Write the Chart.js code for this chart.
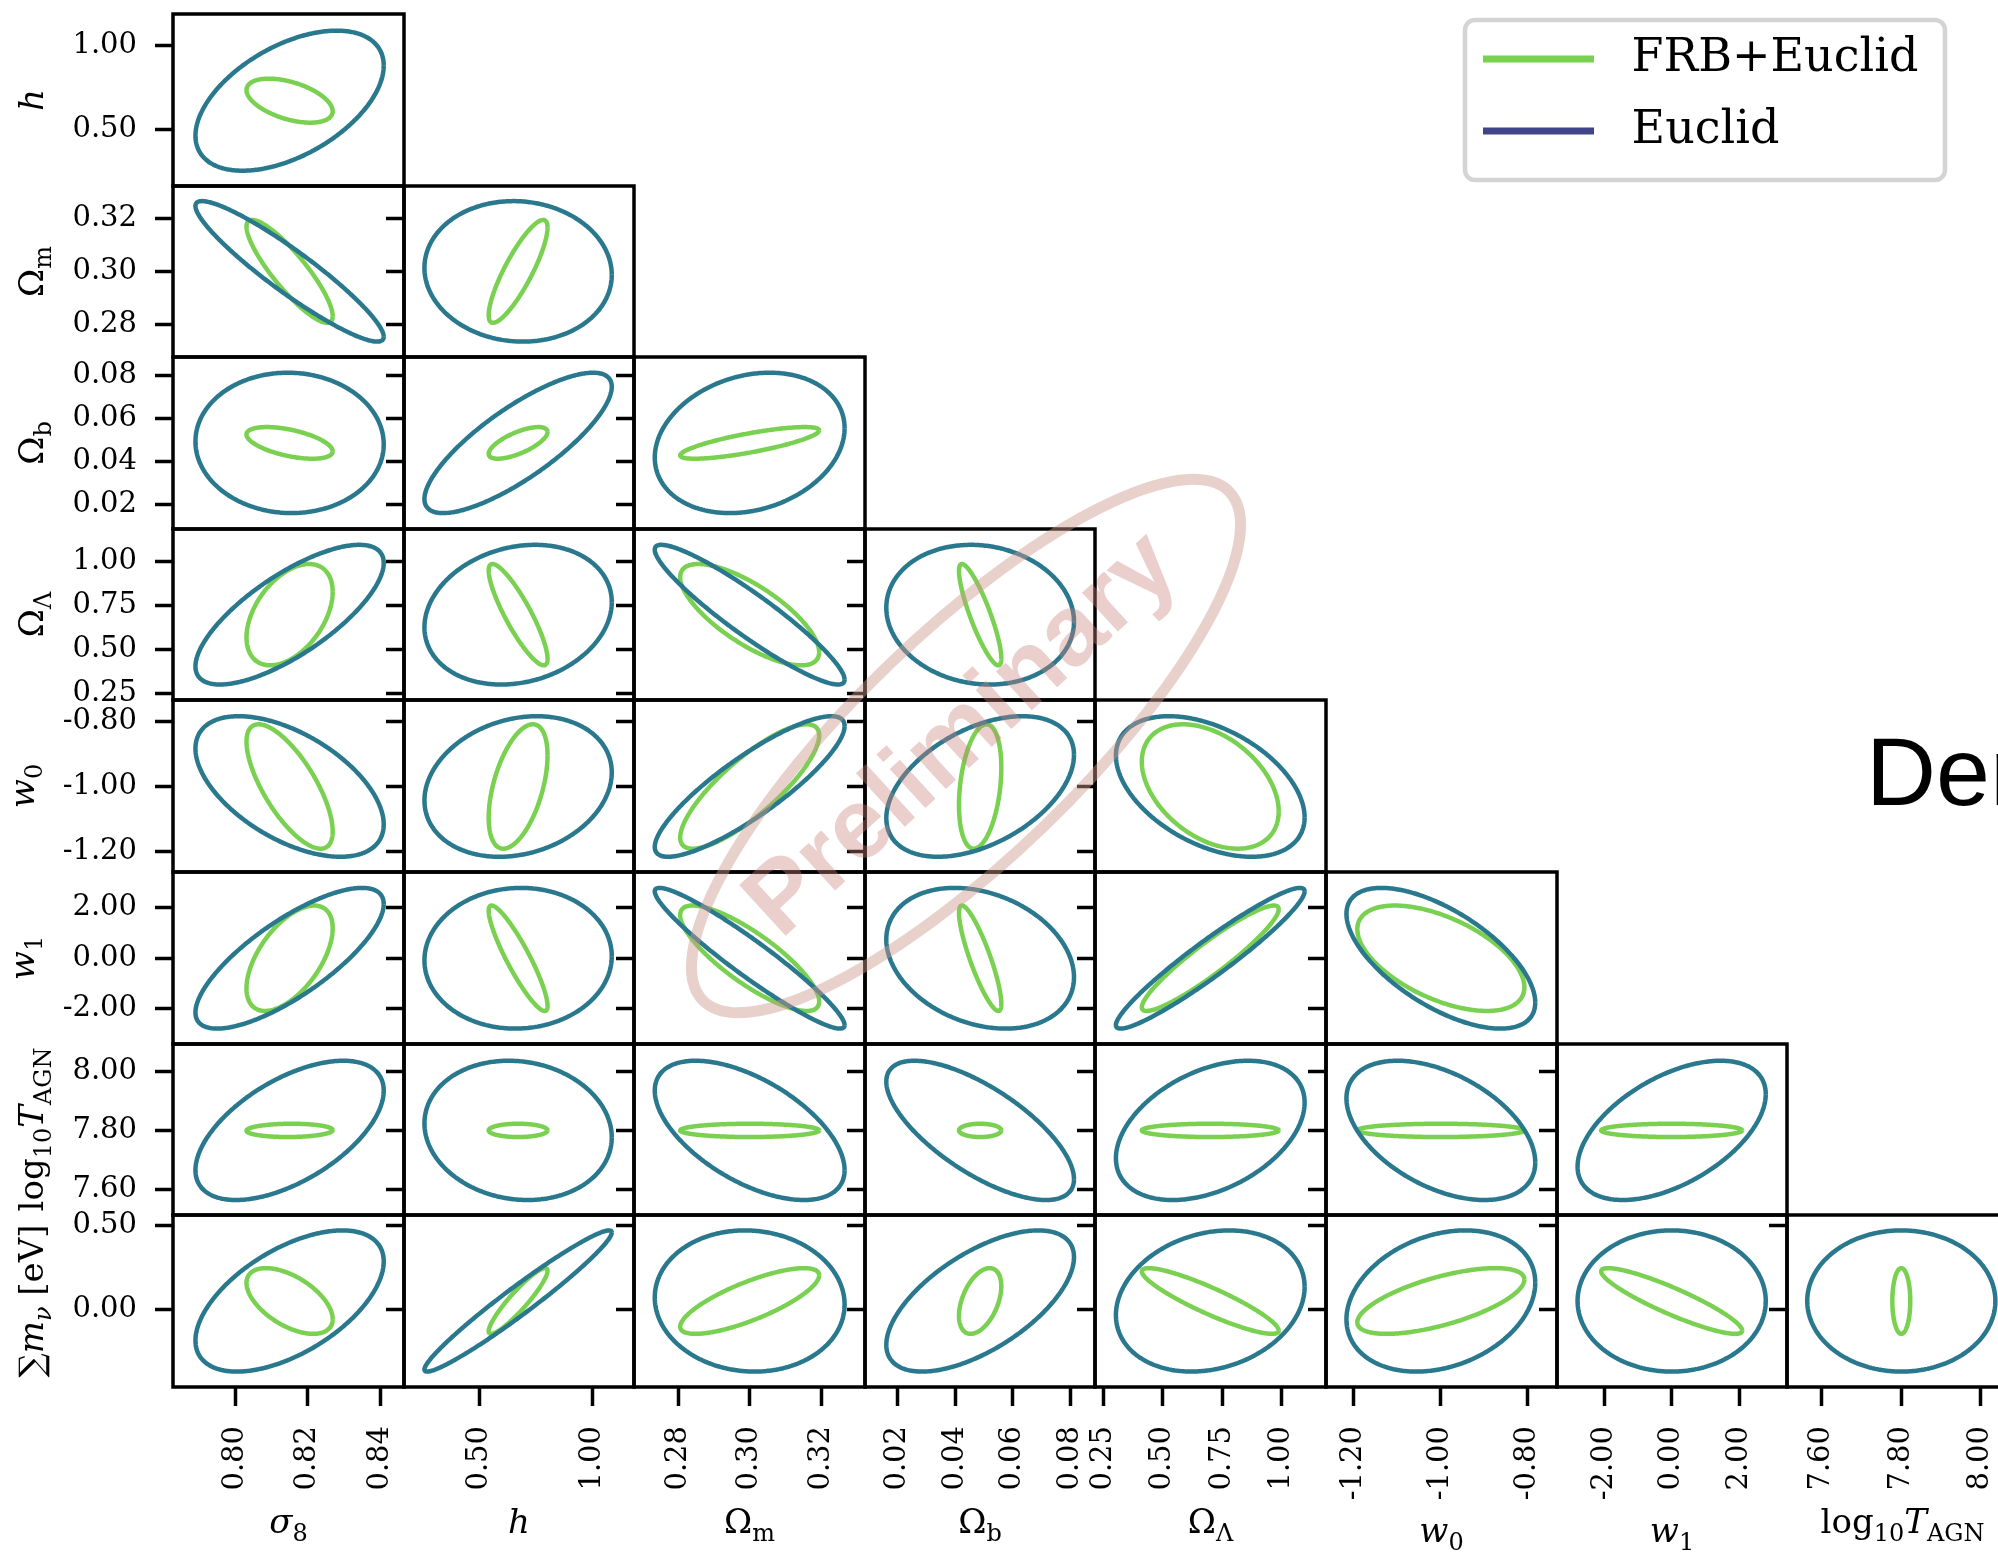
<!DOCTYPE html>
<html>
<head>
<meta charset="utf-8">
<script src="https://cdn.jsdelivr.net/npm/chart.js@4.4.0/dist/chart.umd.min.js"></script>
<style>
html, body { margin: 0; padding: 0; background: #fff; overflow: hidden; }
#page { position: relative; width: 1998px; height: 1556px; overflow: hidden; background: #fff; }
#page canvas { position: absolute; }
</style>
</head>
<body>
<div id="page"></div>
<script>
// parameter order: sigma8, h, Omega_m, Omega_b, Omega_Lambda, w0, w1, log10 T_AGN, sum m_nu
var fiducial    = [0.815, 0.670, 0.300, 0.0486, 0.700, -1.000, 0.00, 7.800, 0.050];
var axisMin     = [0.7828, 0.162, 0.2677, 0.0086, 0.215, -1.264, -3.40, 7.512, -0.463];
var axisMax     = [0.8466, 1.186, 0.3322, 0.0885, 1.187, -0.733, 3.42, 8.094, 0.563];
var tickValues  = [
    [0.80, 0.82, 0.84],
    [0.50, 1.00],
    [0.28, 0.30, 0.32],
    [0.02, 0.04, 0.06, 0.08],
    [0.25, 0.50, 0.75, 1.00],
    [-1.20, -1.00, -0.80],
    [-2.00, 0.00, 2.00],
    [7.60, 7.80, 8.00],
    [0.00, 0.50]
];
// half extent of each contour along every parameter
var euclidWidth = [0.0260, 0.417, 0.0265, 0.0326, 0.397, 0.217, 2.79, 0.237, 0.421];
var frbWidth    = [0.0119, 0.131, 0.0194, 0.00735, 0.288, 0.192, 2.09, 0.0226, 0.196];
// correlation of each pair, row = y parameter (h .. sum m_nu), column = x parameter
var euclidCorr = [
    [0.50],
    [-0.93, -0.05],
    [-0.02, 0.80, 0.21],
    [0.74, 0.18, -0.93, -0.10],
    [-0.54, 0.20, 0.86, 0.45, -0.44],
    [0.77, 0.03, -0.95, -0.27, 0.95, -0.63],
    [0.57, -0.10, -0.57, -0.70, 0.40, -0.46, 0.52],
    [0.56, 0.97, -0.05, 0.62, 0.20, 0.26, 0.00, 0.00]
];
var frbCorr = [
    [-0.48],
    [-0.87, 0.85],
    [-0.53, 0.69, 0.79],
    [0.45, -0.87, -0.74, -0.86],
    [-0.72, 0.50, 0.82, 0.30, -0.40],
    [0.57, -0.90, -0.82, -0.86, 0.93, -0.55],
    [0.05, 0.00, 0.00, 0.00, 0.00, 0.00, 0.00],
    [-0.55, 0.92, 0.78, 0.45, -0.90, 0.65, -0.90, 0.00]
];
var axisLabels = [
    [['σ', 'i'], ['8', 'sub']],
    [['h', 'i']],
    [['Ω', 'r'], ['m', 'sub']],
    [['Ω', 'r'], ['b', 'sub']],
    [['Ω', 'r'], ['Λ', 'sub']],
    [['w', 'i'], ['0', 'sub']],
    [['w', 'i'], ['1', 'sub']],
    [['log', 'r'], ['10', 'sub'], ['T', 'i'], ['AGN', 'sub']],
    [['∑', 'r'], ['m', 'i'], ['ν', 'subi'], [' [eV]', 'r']]
];
var seriesNames = ['FRB+Euclid', 'Euclid'];

var green = '#7ad151', teal = '#2a788e', navy = '#414487';
var gridLeft = 173, gridTop = 14, cellW = 230.6, cellH = 171.6;
var nSeg = 180;
var tickFont = 29;

Chart.defaults.font.family = 'DejaVu Serif';
Chart.defaults.color = '#000';
Chart.defaults.animation = false;

var page = document.getElementById('page');

function colEdge(c){ return Math.round(gridLeft + cellW*c); }
function rowEdge(r){ return Math.round(gridTop + cellH*r); }

// contour of a 2d gaussian given its half extents and correlation
function contour(xi, yi, width, rho){
    var pts = [];
    var s = Math.sqrt(1 - rho*rho);
    for(var k=0;k<=nSeg;k++){
        var t = 2*Math.PI*k/nSeg;
        pts.push({
            x: fiducial[xi] + width[xi]*Math.cos(t),
            y: fiducial[yi] + width[yi]*(rho*Math.cos(t) + s*Math.sin(t))
        });
    }
    return pts;
}

var titleStyle = {
    i:    {font: 'italic 34px "DejaVu Serif"', dy: 0},
    r:    {font: '34px "DejaVu Serif"', dy: 0},
    sub:  {font: '24px "DejaVu Serif"', dy: 8},
    subi: {font: 'italic 24px "DejaVu Serif"', dy: 8}
};

function drawLabel(ctx, parts, mid, base, vertical){
    ctx.save();
    var w = 0;
    parts.forEach(function(p){ ctx.font = titleStyle[p[1]].font; w += ctx.measureText(p[0]).width; });
    if(vertical){
        ctx.translate(base, mid);
        ctx.rotate(-Math.PI/2);
    }else{
        ctx.translate(mid, base);
    }
    ctx.fillStyle = '#000';
    ctx.textAlign = 'left';
    ctx.textBaseline = 'alphabetic';
    var x = -w/2;
    parts.forEach(function(p){
        var st = titleStyle[p[1]];
        ctx.font = st.font;
        ctx.fillText(p[0], x, st.dy);
        x += ctx.measureText(p[0]).width;
    });
    ctx.restore();
}

function widestTick(ctx, p){
    ctx.save();
    ctx.font = tickFont + 'px "DejaVu Serif"';
    var m = 0;
    tickValues[p].forEach(function(v){ m = Math.max(m, ctx.measureText(v.toFixed(2)).width); });
    ctx.restore();
    return m;
}

var framePlugin = {
    id: 'frame',
    afterDraw: function(chart){
        var a = chart.chartArea, ctx = chart.ctx;
        ctx.save();
        ctx.strokeStyle = '#000';
        ctx.lineWidth = 3.5;
        ctx.strokeRect(a.left, a.top, a.right - a.left, a.bottom - a.top);
        ctx.restore();
    }
};

var titlePlugin = {
    id: 'mathTitles',
    afterDraw: function(chart, args, opts){
        var a = chart.chartArea, ctx = chart.ctx;
        if(opts.x >= 0){
            var wx = widestTick(ctx, opts.x);
            drawLabel(ctx, axisLabels[opts.x], (a.left + a.right)/2, a.bottom + 19 + 20 + wx + 42, false);
        }
        if(opts.y >= 0){
            var wy = widestTick(ctx, opts.y);
            drawLabel(ctx, axisLabels[opts.y], (a.top + a.bottom)/2, a.left - 18 - 18 - wy - 29, true);
        }
    }
};

function axisOptions(p, withLabels, dir, size){
    return {
        type: 'linear',
        min: axisMin[p],
        max: axisMax[p],
        display: dir === 'y' ? true : withLabels,
        afterBuildTicks: function(s){
            s.ticks = tickValues[p].map(function(v){ return {value: v}; });
        },
        afterFit: function(s){
            if(dir === 'x'){ s.height = withLabels ? size : 0; }else{ s.width = size; }
            s.paddingLeft = 0; s.paddingRight = 0; s.paddingTop = 0; s.paddingBottom = 0;
        },
        ticks: {
            display: withLabels,
            autoSkip: false,
            padding: dir === 'x' ? 20 : 18,
            minRotation: dir === 'x' ? 90 : 0,
            maxRotation: dir === 'x' ? 90 : 0,
            color: '#000',
            font: {family: 'DejaVu Serif', size: tickFont},
            callback: function(v){ return Number(v).toFixed(2); }
        },
        grid: {
            display: true,
            drawOnChartArea: false,
            drawTicks: true,
            tickLength: dir === 'x' ? 19 : 18,
            tickWidth: 3.5,
            tickColor: '#000'
        },
        border: {display: false}
    };
}

function addPanel(r, c){
    var xi = c, yi = r + 1;
    var px = colEdge(c), py = rowEdge(r);
    var pw = colEdge(c+1) - px, ph = rowEdge(r+1) - py;
    var padL = c === 0 ? px : 22;
    var padT = 20, padR = 4;
    var padB = r === 7 ? 1556 - (py + ph) : 20;
    var canvas = document.createElement('canvas');
    canvas.width = pw + padL + padR;
    canvas.height = ph + padT + padB;
    canvas.style.left = (px - padL) + 'px';
    canvas.style.top = (py - padT) + 'px';
    page.appendChild(canvas);

    new Chart(canvas, {
        type: 'scatter',
        data: {
            datasets: [{
                label: seriesNames[0],
                data: contour(xi, yi, frbWidth, frbCorr[r][c]),
                borderColor: green,
                backgroundColor: green,
                order: 2
            }, {
                label: seriesNames[1],
                data: contour(xi, yi, euclidWidth, euclidCorr[r][c]),
                borderColor: teal,
                backgroundColor: teal,
                order: 1
            }]
        },
        options: {
            responsive: false,
            animation: false,
            events: [],
            showLine: true,
            layout: {autoPadding: false, padding: {left: 0, right: padR, top: padT, bottom: r === 7 ? 0 : padB}},
            elements: {
                point: {radius: 0, hoverRadius: 0},
                line: {borderWidth: 4.5, tension: 0.1, fill: false}
            },
            plugins: {
                legend: {display: false},
                tooltip: {enabled: false},
                mathTitles: {x: r === 7 ? xi : -1, y: c === 0 ? yi : -1}
            },
            scales: {
                x: axisOptions(xi, r === 7, 'x', padB),
                y: axisOptions(yi, c === 0, 'y', padL)
            }
        },
        plugins: [framePlugin, titlePlugin]
    });
}

for(var r=0;r<8;r++){
    for(var c=0;c<=r;c++){
        addPanel(r, c);
    }
}

// legend
var legendCanvas = document.createElement('canvas');
legendCanvas.width = 1000;
legendCanvas.height = 240;
legendCanvas.style.left = '1457px';
legendCanvas.style.top = '10px';
page.appendChild(legendCanvas);

var legendFrame = {
    id: 'legendFrame',
    beforeDraw: function(chart){
        var ctx = chart.ctx;
        ctx.save();
        ctx.beginPath();
        ctx.roundRect(8, 10, 480, 160, 10);
        ctx.fillStyle = '#fff';
        ctx.fill();
        ctx.strokeStyle = '#d4d4d4';
        ctx.lineWidth = 4.5;
        ctx.stroke();
        ctx.restore();
    }
};

new Chart(legendCanvas, {
    type: 'line',
    data: {
        datasets: [
            {label: seriesNames[0], data: [], borderColor: green, backgroundColor: green},
            {label: seriesNames[1], data: [], borderColor: navy, backgroundColor: navy}
        ]
    },
    options: {
        responsive: false,
        animation: false,
        events: [],
        layout: {padding: 0},
        scales: {x: {display: false}, y: {display: false}},
        plugins: {
            tooltip: {enabled: false},
            legend: {
                display: true,
                position: 'left',
                align: 'start',
                maxWidth: 600,
                labels: {
                    boxWidth: 111,
                    boxHeight: 7,
                    padding: 26,
                    color: '#000',
                    font: {family: 'DejaVu Serif', size: 46},
                    generateLabels: function(chart){
                        return chart.data.datasets.map(function(ds, i){
                            return {text: ' ' + ds.label, fillStyle: ds.borderColor, strokeStyle: ds.borderColor,
                                    lineWidth: 0, hidden: false, datasetIndex: i, fontColor: '#000'};
                        });
                    }
                }
            }
        }
    },
    plugins: [legendFrame]
});

// stamp and cut text on top
var overCanvas = document.createElement('canvas');
overCanvas.width = 1998;
overCanvas.height = 1556;
overCanvas.style.left = '0px';
overCanvas.style.top = '0px';
overCanvas.style.pointerEvents = 'none';
page.appendChild(overCanvas);

var stampPlugin = {
    id: 'stamp',
    afterDraw: function(chart){
        var ctx = chart.ctx;
        ctx.save();
        ctx.translate(966, 746);
        ctx.rotate(-44*Math.PI/180);
        ctx.strokeStyle = 'rgba(205,150,140,0.45)';
        ctx.lineWidth = 11;
        ctx.beginPath();
        ctx.ellipse(0, 0, 366, 112, 0, 0, 2*Math.PI);
        ctx.stroke();
        ctx.restore();

        ctx.save();
        ctx.translate(963, 736);
        ctx.rotate(-42.5*Math.PI/180);
        ctx.fillStyle = 'rgba(200,130,120,0.38)';
        ctx.font = 'bold 100px "Liberation Sans"';
        ctx.textAlign = 'center';
        ctx.textBaseline = 'middle';
        ctx.fillText('Preliminary', 0, 0);
        ctx.restore();

        ctx.save();
        ctx.fillStyle = '#000';
        ctx.font = '97px "Liberation Sans"';
        ctx.textAlign = 'left';
        ctx.textBaseline = 'alphabetic';
        ctx.fillText('Demo', 1866, 805);
        ctx.restore();
    }
};

new Chart(overCanvas, {
    type: 'scatter',
    data: {datasets: []},
    options: {
        responsive: false,
        animation: false,
        events: [],
        scales: {x: {display: false}, y: {display: false}},
        plugins: {legend: {display: false}, tooltip: {enabled: false}}
    },
    plugins: [stampPlugin]
});
</script>
</body>
</html>
